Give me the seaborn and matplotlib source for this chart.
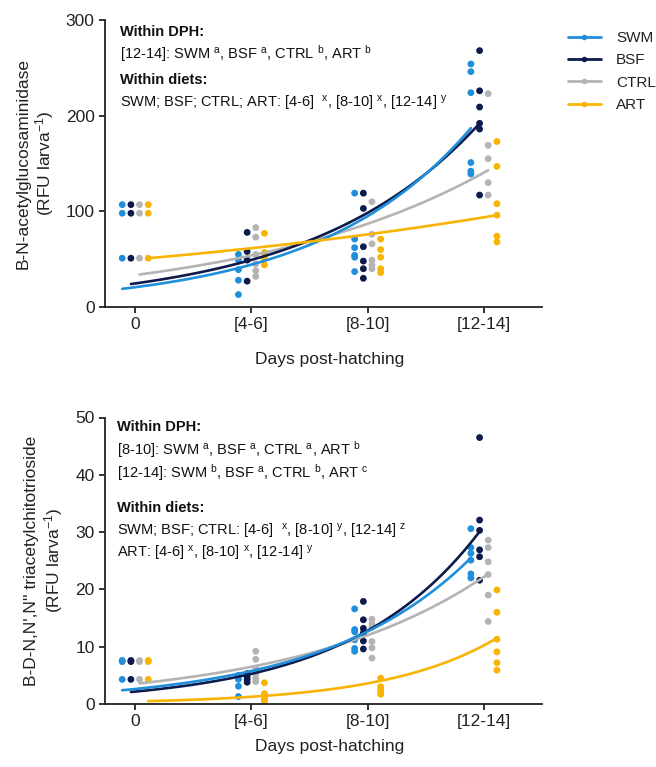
import numpy as np
import pandas as pd
import matplotlib
matplotlib.use("Agg")
import matplotlib.pyplot as plt
import seaborn as sns
from matplotlib.lines import Line2D

# ---------------- data ----------------
diets = ["SWM", "BSF", "CTRL", "ART"]
stages = ["0", "[4-6]", "[8-10]", "[12-14]"]

# B-N-acetylglucosaminidase (RFU larva-1), per diet, per stage
nag_swm = [[107, 98, 51], [55, 49, 39, 28, 13], [119, 71, 62, 54, 52, 37], [254, 246, 224, 151, 142, 139]]
nag_bsf = [[107, 98, 51], [78, 58, 49, 27], [119, 103, 63, 48, 40, 30], [268, 226, 209, 192, 186, 117]]
nag_ctrl = [[107, 98, 51], [83, 73, 55, 45, 38, 32], [110, 76, 66, 49, 44, 40], [223, 169, 155, 130, 117]]
nag_art = [[107, 98, 51], [77, 57, 51, 44], [71, 60, 52, 40, 36], [173, 147, 108, 96, 74, 68]]
# exponential fit: value at day 0 and at [12-14]
nag_fit_start = [19, 24, 34, 51]
nag_fit_end = [187, 192, 143, 96]

# B-D-N,N',N'' triacetylchitotrioside (RFU larva-1)
chi_swm = [[7.6, 7.4, 4.3], [5.0, 4.3, 3.1, 1.3], [16.6, 13.0, 12.6, 11.2, 9.7, 9.2], [30.6, 27.3, 26.3, 25.1, 22.7, 22.0]]
chi_bsf = [[7.6, 7.4, 4.3], [5.3, 4.8, 4.3, 3.8], [17.9, 14.7, 13.2, 12.4, 11.0, 9.6], [46.5, 32.1, 30.3, 26.9, 25.7, 21.6]]
chi_ctrl = [[7.6, 7.4, 4.3], [9.2, 7.8, 6.2, 5.3, 4.5, 3.9], [14.8, 14.0, 13.4, 10.9, 9.8, 8.0], [28.6, 27.3, 24.8, 22.6, 19.0, 14.4]]
chi_art = [[7.6, 7.4, 4.3], [3.7, 1.8, 1.3, 0.9, 0.5], [4.5, 3.0, 2.5, 2.0, 1.7], [19.9, 16.0, 11.3, 9.1, 7.2, 5.9]]
chi_fit_start = [2.4, 2.1, 3.6, 0.5]
chi_fit_end = [25.5, 30.1, 22.7, 11.5]

# ---------------- style ----------------
colors = {"SWM": "#1f8fdb", "BSF": "#0c1a4c", "CTRL": "#b4b4b4", "ART": "#f8b400"}
dodge = {"SWM": -0.112, "BSF": -0.037, "CTRL": 0.037, "ART": 0.112}

sns.set_style("ticks")
plt.rcParams["font.family"] = ["Liberation Sans", "DejaVu Sans"]
plt.rcParams["mathtext.fontset"] = "custom"
plt.rcParams["mathtext.rm"] = "Liberation Sans"
plt.rcParams["mathtext.it"] = "Liberation Sans:italic"
plt.rcParams["mathtext.bf"] = "Liberation Sans:bold"

W, H = 656, 767
fig = plt.figure(figsize=(W / 100, H / 100), dpi=100)


def px_axes(l, t, r, b):
    return fig.add_axes([l / W, 1 - b / H, (r - l) / W, (b - t) / H])


def long_points(series):
    rows = []
    for d, vals in zip(diets, series):
        for i, st in enumerate(vals):
            for v in st:
                rows.append({"diet": d, "xpos": i + dodge[d], "value": v})
    return pd.DataFrame(rows)


def long_curves(starts, ends):
    rows = []
    t = np.linspace(0, len(stages) - 1, 120)
    for d, a, e in zip(diets, starts, ends):
        y = a * (e / a) ** (t / (len(stages) - 1))
        for tt, yy in zip(t, y):
            rows.append({"diet": d, "x": tt + dodge[d], "y": yy})
    return pd.DataFrame(rows)


def draw(ax, series, starts, ends, ymax, ystep, ylabel, lab_x, xlab_y):
    pts = long_points(series)
    sns.scatterplot(data=pts, x="xpos", y="value", hue="diet", palette=colors,
                    hue_order=diets, s=24, edgecolor="none", linewidth=0,
                    legend=False, ax=ax, zorder=2)
    cur = long_curves(starts, ends)
    sns.lineplot(data=cur, x="x", y="y", hue="diet", palette=colors,
                 hue_order=["CTRL", "BSF", "SWM", "ART"], estimator=None,
                 sort=False, linewidth=1.9, legend=False, ax=ax, zorder=3)
    ax.set_xlim(-0.26, 3.50)
    ax.set_ylim(0, ymax)
    ax.set_xticks(range(len(stages)))
    ax.set_xticklabels(stages)
    ax.set_yticks(np.arange(0, ymax + ystep / 2, ystep))
    for s in ["top", "right"]:
        ax.spines[s].set_visible(False)
    for s in ["left", "bottom"]:
        ax.spines[s].set_linewidth(1.3)
        ax.spines[s].set_color("#222222")
    ax.tick_params(axis="both", length=4.5, width=1.3, color="#222222",
                   labelsize=12.5, labelcolor="#222222")
    ax.tick_params(axis="x", pad=2.5)
    ax.tick_params(axis="y", pad=3)
    ax.set_ylabel(ylabel, fontsize=12.5, color="#222222", multialignment="center")
    ax.yaxis.set_label_coords(lab_x, 0.5)
    ax.set_xlabel("Days post-hatching", fontsize=12.5, color="#222222")
    ax.xaxis.set_label_coords(0.515, xlab_y)


ax1 = px_axes(105, 20, 542, 307)
draw(ax1, [nag_swm, nag_bsf, nag_ctrl, nag_art], nag_fit_start, nag_fit_end,
     300, 100, "B-N-acetylglucosaminidase\n(RFU larva$^{-1}$)", -0.111, -0.156)

ax2 = px_axes(105, 417.5, 542, 704)
draw(ax2, [chi_swm, chi_bsf, chi_ctrl, chi_art], chi_fit_start, chi_fit_end,
     50, 10, "B-D-N,N',N'' triacetylchitotrioside\n(RFU larva$^{-1}$)", -0.091, -0.122)


def ftext(x, y, s, bold=False):
    fig.text(x / W, 1 - y / H, s, fontsize=10.5, va="center", ha="left",
             color="#111111", fontweight="bold" if bold else "normal")


def sup(c):
    return r"$^{\rm " + c + "}$"


# top annotations
ftext(120, 32, "Within DPH:", bold=True)
ftext(120, 54, "[12-14]: SWM " + sup("a") + ", BSF " + sup("a") + ", CTRL " + sup("b") + ", ART " + sup("b"))
ftext(120, 80, "Within diets:", bold=True)
ftext(120, 103, "SWM; BSF; CTRL; ART: [4-6]  " + sup("x") + ", [8-10] " + sup("x") + ", [12-14] " + sup("y"))

# bottom annotations
ftext(117, 427, "Within DPH:", bold=True)
ftext(117, 450, "[8-10]: SWM " + sup("a") + ", BSF " + sup("a") + ", CTRL " + sup("a") + ", ART " + sup("b"))
ftext(117, 473, "[12-14]: SWM " + sup("b") + ", BSF " + sup("a") + ", CTRL " + sup("b") + ", ART " + sup("c"))
ftext(117, 508, "Within diets:", bold=True)
ftext(117, 532, "SWM; BSF; CTRL: [4-6]  " + sup("x") + ", [8-10] " + sup("y") + ", [12-14] " + sup("z"))
ftext(117, 554, "ART: [4-6] " + sup("x") + ", [8-10] " + sup("x") + ", [12-14] " + sup("y"))

# legend
handles = [Line2D([0], [0], color=colors[d], lw=2.0, marker="o", markersize=4,
                  markeredgewidth=0) for d in diets]
fig.legend(handles, diets, loc="upper left", bbox_to_anchor=(568 / W, 1 - 31 / H),
           frameon=False, fontsize=11, handlelength=2.15, handletextpad=1.0,
           labelspacing=0.55, borderpad=0, borderaxespad=0, labelcolor="#222222")

fig.savefig("out.png", dpi=100, facecolor="white")
